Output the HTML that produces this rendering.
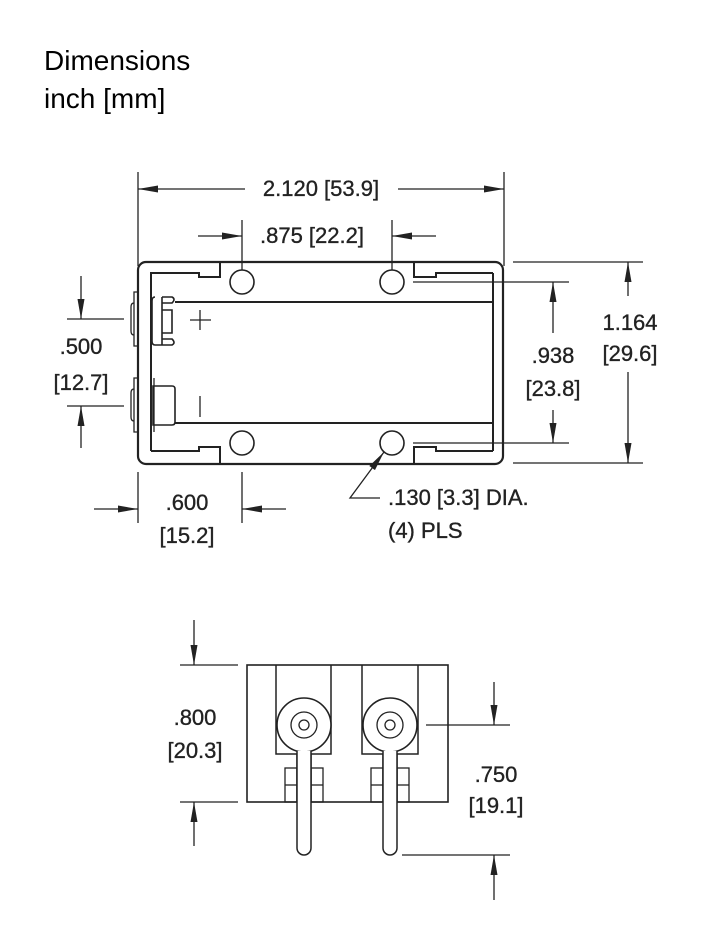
<!DOCTYPE html>
<html><head><style>
html,body{margin:0;padding:0;background:#fff;width:718px;height:933px;overflow:hidden}
svg text{font-family:"Liberation Sans",sans-serif;fill:#222}
</style></head><body>
<svg width="718" height="933" viewBox="0 0 718 933" xmlns="http://www.w3.org/2000/svg">
<defs>
<marker id="a" viewBox="0 0 20 10" refX="20" refY="5" markerWidth="20" markerHeight="10" markerUnits="userSpaceOnUse" orient="auto"><path d="M0,1.5 L20,5 L0,8.5 Z" fill="#222"/></marker>
</defs>
<text x="44" y="70" font-size="28" style="fill:#000">Dimensions</text>
<text x="44" y="108" font-size="28" style="fill:#000">inch [mm]</text>

<g stroke="#222" stroke-width="1.3" fill="none">
<line x1="138" y1="172" x2="138" y2="266"/>
<line x1="504" y1="172" x2="504" y2="266"/>
<line x1="245" y1="189" x2="138" y2="189" marker-end="url(#a)"/>
<line x1="398" y1="189" x2="504" y2="189" marker-end="url(#a)"/>
<line x1="242" y1="220" x2="242" y2="270"/>
<line x1="392" y1="220" x2="392" y2="270"/>
<line x1="198" y1="236" x2="242" y2="236" marker-end="url(#a)"/>
<line x1="436" y1="236" x2="392" y2="236" marker-end="url(#a)"/>
<rect x="138" y="262" width="365" height="202" rx="8" stroke-width="2.2"/>
<path d="M493,273 H436 V277 H414 V262" stroke-width="2"/>
<path d="M151,451 V273 H199 V277 H220 V262" stroke-width="2"/>
<path d="M151,451 H199 V447 H220 V464" stroke-width="2"/>
<path d="M493,451 H436 V447 H414 V464" stroke-width="2"/>
<line x1="493" y1="273" x2="493" y2="451" stroke-width="2"/>
<line x1="175" y1="302" x2="493" y2="302" stroke-width="2"/>
<line x1="175" y1="423" x2="493" y2="423" stroke-width="2"/>
<circle cx="242" cy="282" r="12" stroke-width="1.6"/><circle cx="392" cy="282" r="12" stroke-width="1.6"/>
<circle cx="242" cy="443" r="12" stroke-width="1.6"/><circle cx="392" cy="443" r="12" stroke-width="1.6"/>
<path d="M138,292 H134 V346 H138"/><path d="M134,303 q-3,0 -3,4 v24 q0,4 3,4"/>
<path d="M138,378 H134 V432 H138"/><path d="M134,389 q-3,0 -3,4 v24 q0,4 3,4"/>
<path d="M155,297 q-3,0 -3,4 v40 q0,4 3,4 h7 M162,297 v48 M162,297 h10 q4,2 0,6 h-10 M162,345 h10 q4,-2 0,-6 h-10 M162,310 h10 v23 h-10" stroke-width="1.6"/>
<path d="M153,386 h19 q3,0 3,3 v33 q0,3 -3,3 h-19 Z" stroke-width="1.6"/>
<line x1="154" y1="378" x2="154" y2="432"/>
<line x1="190" y1="320" x2="211" y2="320"/><line x1="200" y1="310" x2="200" y2="330"/>
<line x1="200" y1="396" x2="200" y2="417"/>
<line x1="67" y1="319" x2="124" y2="319"/><line x1="67" y1="406" x2="124" y2="406"/>
<line x1="81" y1="276" x2="81" y2="319" marker-end="url(#a)"/>
<line x1="81" y1="448" x2="81" y2="406" marker-end="url(#a)"/>
<line x1="138" y1="472" x2="138" y2="523"/><line x1="242" y1="472" x2="242" y2="523"/>
<line x1="94" y1="509" x2="138" y2="509" marker-end="url(#a)"/>
<line x1="286" y1="509" x2="242" y2="509" marker-end="url(#a)"/>
<line x1="413" y1="282" x2="569" y2="282"/><line x1="413" y1="443" x2="569" y2="443"/>
<line x1="513" y1="262" x2="643" y2="262"/><line x1="513" y1="463" x2="643" y2="463"/>
<line x1="553" y1="333" x2="553" y2="282" marker-end="url(#a)"/>
<line x1="553" y1="410" x2="553" y2="443" marker-end="url(#a)"/>
<line x1="628" y1="296" x2="628" y2="262" marker-end="url(#a)"/>
<line x1="628" y1="372" x2="628" y2="463" marker-end="url(#a)"/>
<path d="M380,498 H350 L384,452" marker-end="url(#a)"/>

<rect x="247" y="665" width="201" height="137" stroke-width="1.6"/>
<path d="M276,665 V754 H297 V802 M331,665 V754 H311 V802" stroke-width="1.5"/>
<path d="M362,665 V754 H383 V802 M418,665 V754 H397 V802" stroke-width="1.5"/>
<rect x="285" y="768" width="12" height="34"/><rect x="311" y="768" width="12" height="34"/>
<line x1="285" y1="785" x2="297" y2="785"/><line x1="311" y1="785" x2="323" y2="785"/>
<rect x="371" y="768" width="12" height="34"/><rect x="397" y="768" width="12" height="34"/>
<line x1="371" y1="785" x2="383" y2="785"/><line x1="397" y1="785" x2="409" y2="785"/>
<circle cx="304" cy="725" r="27" fill="#fff" stroke-width="1.6"/><circle cx="304" cy="725" r="13"/><circle cx="304" cy="725" r="5"/>
<circle cx="390" cy="725" r="27" fill="#fff" stroke-width="1.6"/><circle cx="390" cy="725" r="13"/><circle cx="390" cy="725" r="5"/>
<path d="M297,751 V848 a7,7 0 0 0 14,0 V751" fill="#fff" stroke-width="1.5"/>
<path d="M383,751 V848 a7,7 0 0 0 14,0 V751" fill="#fff" stroke-width="1.5"/>
<line x1="180" y1="665" x2="238" y2="665"/><line x1="180" y1="802" x2="238" y2="802"/>
<line x1="194" y1="620" x2="194" y2="665" marker-end="url(#a)"/>
<line x1="194" y1="846" x2="194" y2="802" marker-end="url(#a)"/>
<line x1="426" y1="725" x2="510" y2="725"/><line x1="402" y1="855" x2="510" y2="855"/>
<line x1="494" y1="682" x2="494" y2="725" marker-end="url(#a)"/>
<line x1="494" y1="900" x2="494" y2="855" marker-end="url(#a)"/>
</g>

<g font-size="22" stroke="#222" stroke-width="0.35">
<text x="321" y="196" text-anchor="middle">2.120 [53.9]</text>
<text x="312" y="243" text-anchor="middle">.875 [22.2]</text>
<text x="81" y="354" text-anchor="middle">.500</text>
<text x="81" y="390" text-anchor="middle">[12.7]</text>
<text x="187" y="510" text-anchor="middle">.600</text>
<text x="187" y="543" text-anchor="middle">[15.2]</text>
<text x="553" y="363" text-anchor="middle">.938</text>
<text x="553" y="396" text-anchor="middle">[23.8]</text>
<text x="630" y="330" text-anchor="middle">1.164</text>
<text x="630" y="361" text-anchor="middle">[29.6]</text>
<text x="388" y="505">.130 [3.3] DIA.</text>
<text x="388" y="538">(4) PLS</text>
<text x="195" y="725" text-anchor="middle">.800</text>
<text x="195" y="758" text-anchor="middle">[20.3]</text>
<text x="496" y="782" text-anchor="middle">.750</text>
<text x="496" y="813" text-anchor="middle">[19.1]</text>
</g>
</svg>
</body></html>
